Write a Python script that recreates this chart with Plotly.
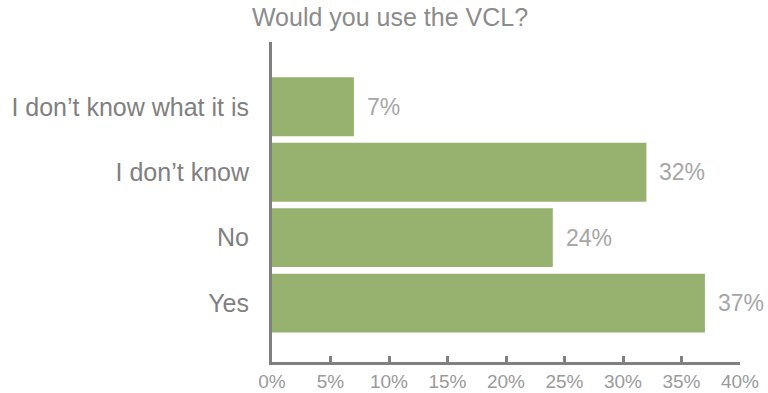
import plotly.graph_objects as go

# Survey responses, listed bottom to top as drawn
answers = ["Yes", "No", "I don\u2019t know", "I don\u2019t know what it is"]
shares = [37, 24, 32, 7]
tick_vals = [0, 5, 10, 15, 20, 25, 30, 35, 40]
tick_text = [f"{v}%" for v in tick_vals]

FONT = "Liberation Sans"
AXIS_GREY = "#808080"
BAR_GREEN = "#97b16e"

fig = go.Figure()
fig.add_trace(go.Bar(
    x=shares,
    y=list(range(len(answers))),
    orientation="h",
    marker=dict(color=BAR_GREEN, line=dict(width=0)),
    width=0.9,
    hoverinfo="skip",
))

# Percentage labels just past each bar end
for i, v in enumerate(shares):
    fig.add_annotation(
        x=v, y=i, text=f"{v}%", showarrow=False,
        xanchor="left", yanchor="middle", xshift=11,
        font=dict(family=FONT, size=23, color="#a6a6a6"),
    )

fig.update_layout(
    width=768, height=393,
    margin=dict(l=272, r=28, t=42, b=31),
    paper_bgcolor="white", plot_bgcolor="white",
    showlegend=False,
    title=dict(
        text="Would you use the VCL?",
        x=390 / 768, xref="container", xanchor="center",
        y=1 - 17 / 393, yref="container", yanchor="middle",
        font=dict(family=FONT, size=25, color="#8c8c8c"),
    ),
    xaxis=dict(
        range=[0, 40], tickvals=tick_vals, ticktext=tick_text,
        showgrid=False, zeroline=False, automargin=False,
        showline=True, linecolor=AXIS_GREY, linewidth=3,
        ticks="inside", ticklen=6, tickwidth=3, tickcolor=AXIS_GREY,
        tickfont=dict(family=FONT, size=19, color="#9a9a9a"),
        ticklabelstandoff=0,
        fixedrange=True,
    ),
    yaxis=dict(
        range=[-0.9, 3.99],
        tickvals=list(range(len(answers))), ticktext=answers,
        showgrid=False, zeroline=False, automargin=False,
        showline=True, linecolor=AXIS_GREY, linewidth=3,
        ticks="outside", ticklen=0, tickcolor="rgba(0,0,0,0)",
        ticklabelstandoff=15,
        tickfont=dict(family=FONT, size=25, color="#808080"),
        fixedrange=True,
    ),
)

fig.write_html("out.html")
